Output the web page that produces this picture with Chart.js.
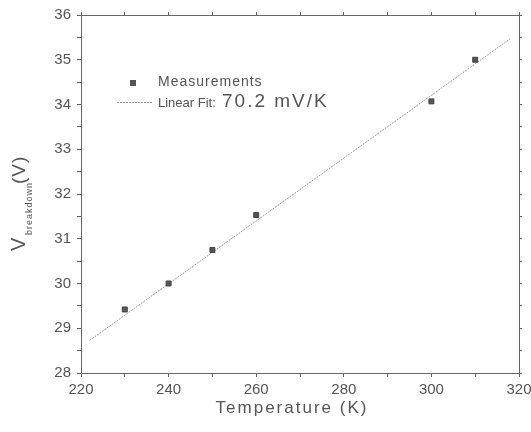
<!DOCTYPE html>
<html>
<head>
<meta charset="utf-8">
<script src="https://cdn.jsdelivr.net/npm/chart.js@4/dist/chart.umd.min.js"></script>
<style>
  html, body { margin: 0; padding: 0; background: #fff; }
  #wrap { width: 531px; height: 432px; }
</style>
</head>
<body>
<div id="wrap"><canvas id="myChart" width="531" height="432"></canvas></div>
<script>
// measured breakdown voltage vs temperature
const temps = [230, 240, 250, 260, 300, 310];
const vBreak = [29.42, 30.0, 30.75, 31.53, 34.07, 35.0];

// linear fit end points (70.2 mV/K)
const fitT = [222, 318];
const fitV = [28.73, 35.47];

const xTicks = [220, 240, 260, 280, 300, 320];
const yTicks = [28, 29, 30, 31, 32, 33, 34, 35, 36];

const axisColor = '#666';
const textColor = '#555';
const FONT = '"Liberation Sans", Arial, sans-serif';

// legend, axis titles (y title has a subscript)
const extras = {
  id: 'extras',
  afterDraw(chart) {
    const c = chart.ctx;
    c.save();
    // legend
    c.fillStyle = '#555';
    c.fillRect(130, 80, 6, 6);
    c.fillStyle = textColor;
    c.textBaseline = 'middle';
    c.letterSpacing = '1px';
    c.font = '14px ' + FONT;
    c.fillText('Measurements', 158, 82);
    c.strokeStyle = '#999';
    c.lineWidth = 1;
    c.setLineDash([2, 1]);
    c.beginPath();
    c.moveTo(117, 102.5);
    c.lineTo(152, 102.5);
    c.stroke();
    c.setLineDash([]);
    c.letterSpacing = '0px';
    c.font = '13px ' + FONT;
    c.fillText('Linear Fit:', 158, 103);
    c.letterSpacing = '2px';
    c.font = '19px ' + FONT;
    c.fillText('70.2 mV/K', 222, 102);

    // x title
    c.textAlign = 'center';
    c.letterSpacing = '2px';
    c.font = '17px ' + FONT;
    c.fillText('Temperature (K)', 292, 408);

    // y title
    c.textAlign = 'left';
    c.translate(25, 251);
    c.rotate(-Math.PI / 2);
    c.textBaseline = 'alphabetic';
    c.letterSpacing = '0px';
    c.font = '20px ' + FONT;
    c.fillText('V', 0, 0);
    c.letterSpacing = '1px';
    c.font = '9px ' + FONT;
    c.fillText('breakdown', 16, 7);
    c.font = '19px ' + FONT;
    c.fillText('(V)', 67, 0);
    c.restore();
  }
};

const ctx = document.getElementById('myChart');

const fixSize = (w, h) => (axis) => {
  if (w !== null) axis.width = w;
  if (h !== null) axis.height = h;
  axis.paddingLeft = 0;
  axis.paddingRight = 0;
  axis.paddingTop = 0;
  axis.paddingBottom = 0;
};

const xAll = (axis) => {
  const t = [];
  for (let v = 220; v <= 320; v += 10) t.push({value: v});
  axis.ticks = t;
};
const yAll = (axis) => {
  const t = [];
  for (let v = 28; v <= 36; v += 0.5) t.push({value: v});
  axis.ticks = t;
};

var chart = new Chart(ctx, {
  type: 'scatter',
  data: {
    datasets: [{
      label: 'Measurements',
      data: temps.map((t, i) => ({x: t, y: vBreak[i]})),
      pointStyle: 'rect',
      pointRadius: 3.5,
      backgroundColor: '#555',
      borderColor: '#444',
      borderWidth: 1
    }, {
      label: 'Linear Fit',
      data: fitT.map((t, i) => ({x: t, y: fitV[i]})),
      showLine: true,
      pointRadius: 0,
      borderColor: '#999',
      borderWidth: 1,
      borderDash: [2, 1]
    }]
  },
  options: {
    responsive: false,
    animation: false,
    layout: {padding: 0},
    plugins: {legend: {display: false}, tooltip: {enabled: false}},
    scales: {
      x: {
        type: 'linear', position: 'bottom', min: 220, max: 320,
        afterFit: fixSize(null, 59),
        afterBuildTicks: xAll,
        ticks: {
          color: textColor, padding: 4,
          font: {size: 15, family: FONT},
          callback: (v) => xTicks.includes(v) ? v : ''
        },
        grid: {drawOnChartArea: false, color: axisColor, tickLength: 4},
        border: {color: axisColor, width: 1}
      },
      x2: {
        type: 'linear', position: 'top', min: 220, max: 320,
        afterFit: fixSize(null, 15),
        afterBuildTicks: xAll,
        ticks: {callback: () => '', padding: 0},
        grid: {drawOnChartArea: false, color: axisColor, tickLength: 3},
        border: {color: axisColor, width: 1}
      },
      y: {
        type: 'linear', position: 'left', min: 28, max: 36,
        afterFit: fixSize(81, null),
        afterBuildTicks: yAll,
        ticks: {
          color: textColor, padding: 6,
          font: {size: 15, family: FONT},
          callback: (v) => yTicks.includes(v) ? v : ''
        },
        grid: {drawOnChartArea: false, color: axisColor, tickLength: 4},
        border: {color: axisColor, width: 1}
      },
      y2: {
        type: 'linear', position: 'right', min: 28, max: 36,
        afterFit: fixSize(12, null),
        afterBuildTicks: yAll,
        ticks: {callback: () => '', padding: 0},
        grid: {drawOnChartArea: false, color: axisColor, tickLength: 3},
        border: {color: axisColor, width: 1}
      }
    }
  },
  plugins: [extras]
});
</script>
</body>
</html>
